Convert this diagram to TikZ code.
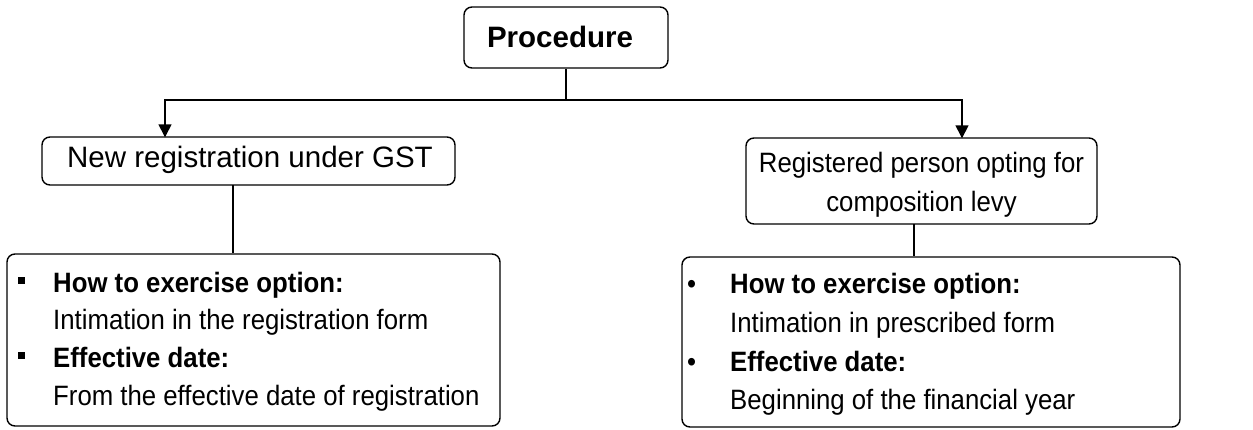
\documentclass[tikz,border=0pt]{standalone}
\usepackage{fontspec}
\setmainfont{Liberation Sans}
\newfontfamily\narrowsans[FakeStretch=0.92]{Liberation Sans}
\usetikzlibrary{arrows.meta}
\begin{document}
\begin{tikzpicture}[x=1pt,y=-1pt,
  box/.style={draw,line width=1.4pt,rounded corners=8pt,inner sep=0pt},
  txt/.style={anchor=base west,inner sep=0pt,font=\narrowsans\fontsize{28}{34}\selectfont},
  ctxt/.style={anchor=base,inner sep=0pt,font=\fontsize{29.5}{36}\selectfont},
  nctxt/.style={anchor=base,inner sep=0pt,font=\narrowsans\fontsize{28}{34}\selectfont},
  conn/.style={line width=1.4pt},
  arr/.style={line width=1.4pt,-{Triangle[width=13pt,length=13pt]}}]
\useasboundingbox (0,0) rectangle (1253,429);
% boxes
\node[box,minimum width=204pt,minimum height=61pt] (proc) at (566,37.5) {};
\node[box,minimum width=413pt,minimum height=48pt] (left) at (248.5,161) {};
\node[box,minimum width=351pt,minimum height=86pt] (right) at (921.5,181) {};
\node[box,minimum width=493pt,minimum height=172pt] (lb) at (253.5,340) {};
\node[box,minimum width=498pt,minimum height=170pt] (rb) at (931,342) {};
% box texts
\node[ctxt,font=\fontsize{29.5}{36}\selectfont\bfseries] (proct) at (560,47) {Procedure};
\node[ctxt] (leftt) at (250,167) {New registration under GST};
\node[nctxt] (right1) at (921.5,172) {Registered person opting for};
\node[nctxt] (right2) at (921.5,211) {composition levy};
% left list
\node[anchor=center,inner sep=0pt] (lbul1) at (21.5,280) {\rule{7pt}{7pt}};
\node[anchor=center,inner sep=0pt] (lbul2) at (21.5,355) {\rule{7pt}{7pt}};
\node[txt] (l1) at (53,292) {\bfseries How to exercise option:};
\node[txt] (l2) at (53,329.5) {Intimation in the registration form};
\node[txt] (l3) at (53,367) {\bfseries Effective date:};
\node[txt] (l4) at (53,405) {From the effective date of registration};
% right list
\node[txt] (rbul1) at (687,293) {•};
\node[txt] (rbul2) at (687,371) {•};
\node[txt] (r1) at (730,293) {\bfseries How to exercise option:};
\node[txt] (r2) at (730,332) {Intimation in prescribed form};
\node[txt] (r3) at (730,371) {\bfseries Effective date:};
\node[txt] (r4) at (730,409) {Beginning of the financial year};
% connectors
\coordinate (j) at (566,100);
\coordinate (la) at (165,137.3);
\coordinate (ra) at (962,138.3);
\coordinate (ls) at (233,185);
\coordinate (rs) at (914,224);
\draw[conn] (proc.south) -- (j);
\draw[arr] (j) -| (la);
\draw[arr] (j) -| (ra);
\draw[conn] (ls) -- (ls |- lb.north);
\draw[conn] (rs) -- (rs |- rb.north);
\end{tikzpicture}
\end{document}
